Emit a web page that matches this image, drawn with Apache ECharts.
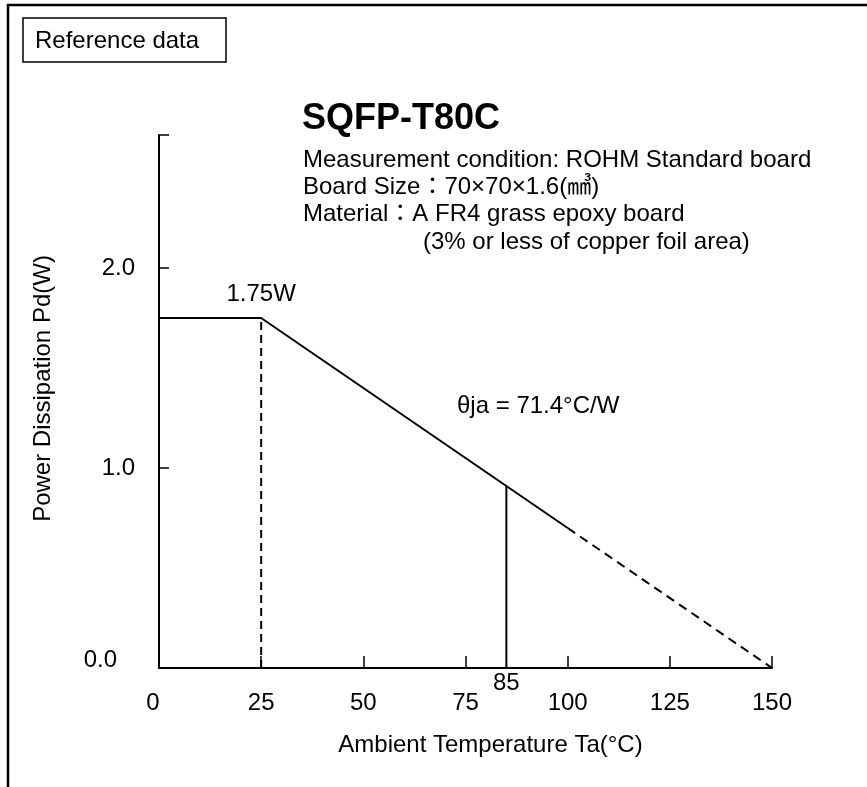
<!DOCTYPE html>
<html>
<head>
<meta charset="utf-8">
<script src="https://cdn.jsdelivr.net/npm/echarts@6/dist/echarts.min.js"></script>
<style>
  html, body { margin: 0; padding: 0; background: #fff; }
  #chart { width: 867px; height: 787px; }
</style>
</head>
<body>
<div id="chart"></div>
<script>
// ---- data ----
const tempC = [0, 25, 85, 100, 150];          // key temperatures (°C)
const powerW = [1.75, 1.75, 0.91, 0.70, 0];   // power dissipation (W)
const xTicks = [25, 50, 75, 100, 125, 150];
const yLabels = [0, 1, 2];
const yMax = 2.665;
const chartTitle = 'SQFP-T80C';
const conditionLines = [
  'Measurement condition: ROHM Standard board',
  'Board Size：70×70×1.6(㎣)',
  'Material：A FR4 grass epoxy board',
  '(3% or less of copper foil area)'
];
const thetaText = 'θja = 71.4°C/W';

const FONT = '"Liberation Sans", Arial, "Noto Sans CJK JP", sans-serif';
const FS = 24;

const pt = i => [tempC[i], powerW[i]];
const solidDerate = [pt(0), pt(1), pt(3)];
const dashedDerate = [pt(3), pt(4)];
const dash25 = [[tempC[1], 0], pt(1)];
const line85 = [[tempC[2], 0], pt(2)];

const chart = echarts.init(document.getElementById('chart'), null, { renderer: 'canvas' });

const lineBase = { type: 'line', symbol: 'none', silent: true, animation: false, z: 3 };

chart.setOption({
  backgroundColor: '#fff',
  animation: false,
  grid: { left: 159, right: 95, top: 135, bottom: 119 },
  xAxis: {
    type: 'value', min: 0, max: 150, interval: 25,
    name: 'Ambient Temperature Ta(°C)',
    nameLocation: 'middle', nameGap: 77,
    nameTextStyle: { fontFamily: FONT, fontSize: FS, color: '#000', verticalAlign: 'middle', padding: [0, 0, 0, 50] },
    axisLine: { show: true, onZero: false, lineStyle: { color: '#000', width: 2 } },
    axisTick: { show: true, inside: true, length: 12, customValues: xTicks, lineStyle: { color: '#000', width: 1.5 } },
    axisLabel: {
      fontFamily: FONT, fontSize: FS, color: '#000', margin: 35, verticalAlign: 'middle',
      formatter: v => v === 0 ? '{z|0}' : String(v),
      rich: { z: { fontFamily: FONT, fontSize: FS, color: '#000', padding: [0, 12, 0, 0] } }
    },
    splitLine: { show: false }
  },
  yAxis: {
    type: 'value', min: 0, max: yMax,
    name: 'Power Dissipation Pd(W)',
    nameLocation: 'middle', nameGap: 104, nameRotate: 90,
    nameTextStyle: { fontFamily: FONT, fontSize: FS, color: '#000', padding: [0, 0, 0, 26] },
    axisLine: { show: true, onZero: false, lineStyle: { color: '#000', width: 2 } },
    axisTick: { show: true, inside: true, length: 10, customValues: yLabels.concat([yMax]), lineStyle: { color: '#000', width: 1.5 } },
    axisLabel: {
      fontFamily: FONT, fontSize: FS, color: '#000', margin: 24,
      customValues: yLabels,
      formatter: v => v === 0 ? '{z|0.0}' : v.toFixed(1),
      rich: { z: { fontFamily: FONT, fontSize: FS, color: '#000', padding: [0, 18, 16, 0] } }
    },
    splitLine: { show: false }
  },
  series: [
    Object.assign({}, lineBase, {
      name: 'derating', data: solidDerate,
      lineStyle: { color: '#000', width: 2 }
    }),
    Object.assign({}, lineBase, {
      name: 'derating-ext', data: dashedDerate,
      lineStyle: { color: '#000', width: 2, type: [9, 6] }
    }),
    Object.assign({}, lineBase, {
      name: 'ta25', data: dash25,
      symbol: 'circle', symbolSize: 0, showSymbol: true,
      itemStyle: { color: '#000' },
      lineStyle: { color: '#000', width: 2, type: [8, 5] },
      label: {
        show: true, position: 'top', distance: 12,
        fontFamily: FONT, fontSize: FS, color: '#000',
        formatter: p => p.dataIndex === 1 ? powerW[1].toFixed(2) + 'W' : ''
      }
    }),
    Object.assign({}, lineBase, {
      name: 'ta85', data: line85,
      symbol: 'circle', symbolSize: 0, showSymbol: true,
      itemStyle: { color: '#000' },
      lineStyle: { color: '#000', width: 2 },
      label: {
        show: true, position: 'bottom', distance: 3,
        fontFamily: FONT, fontSize: FS, color: '#000',
        formatter: p => p.dataIndex === 0 ? String(tempC[2]) : ''
      }
    })
  ],
  graphic: [
    // outer frame (left and top edges)
    { type: 'polyline', silent: true, shape: { points: [[8, 800], [8, 5], [870, 5]] },
      style: { stroke: '#000', lineWidth: 2.5, fill: null } },
    // "Reference data" box
    { type: 'rect', silent: true, shape: { x: 23, y: 18, width: 203, height: 44 },
      style: { stroke: '#000', lineWidth: 1.5, fill: '#fff' } },
    { type: 'text', silent: true, x: 35, y: 41,
      style: { text: 'Reference data', fontFamily: FONT, fontSize: FS, fill: '#000', verticalAlign: 'middle', align: 'left' } },
    // title
    { type: 'text', silent: true, x: 302, y: 119,
      style: { text: chartTitle, fontFamily: FONT, fontSize: 36, fontWeight: 'bold', fill: '#000', verticalAlign: 'middle', align: 'left' } },
    { type: 'text', silent: true, x: 303, y: 160,
      style: { text: conditionLines[0], fontFamily: FONT, fontSize: FS, fill: '#000', verticalAlign: 'middle', align: 'left' } },
    { type: 'text', silent: true, x: 303, y: 187,
      style: { text: conditionLines[1], fontFamily: FONT, fontSize: FS, fill: '#000', verticalAlign: 'middle', align: 'left' } },
    { type: 'text', silent: true, x: 303, y: 214,
      style: { text: conditionLines[2], fontFamily: FONT, fontSize: FS, fill: '#000', verticalAlign: 'middle', align: 'left' } },
    { type: 'text', silent: true, x: 423, y: 242,
      style: { text: conditionLines[3], fontFamily: FONT, fontSize: FS, fill: '#000', verticalAlign: 'middle', align: 'left' } },
    { type: 'text', silent: true, x: 457, y: 406,
      style: { text: thetaText, fontFamily: FONT, fontSize: FS, fill: '#000', verticalAlign: 'middle', align: 'left' } }
  ]
});
</script>
</body>
</html>
